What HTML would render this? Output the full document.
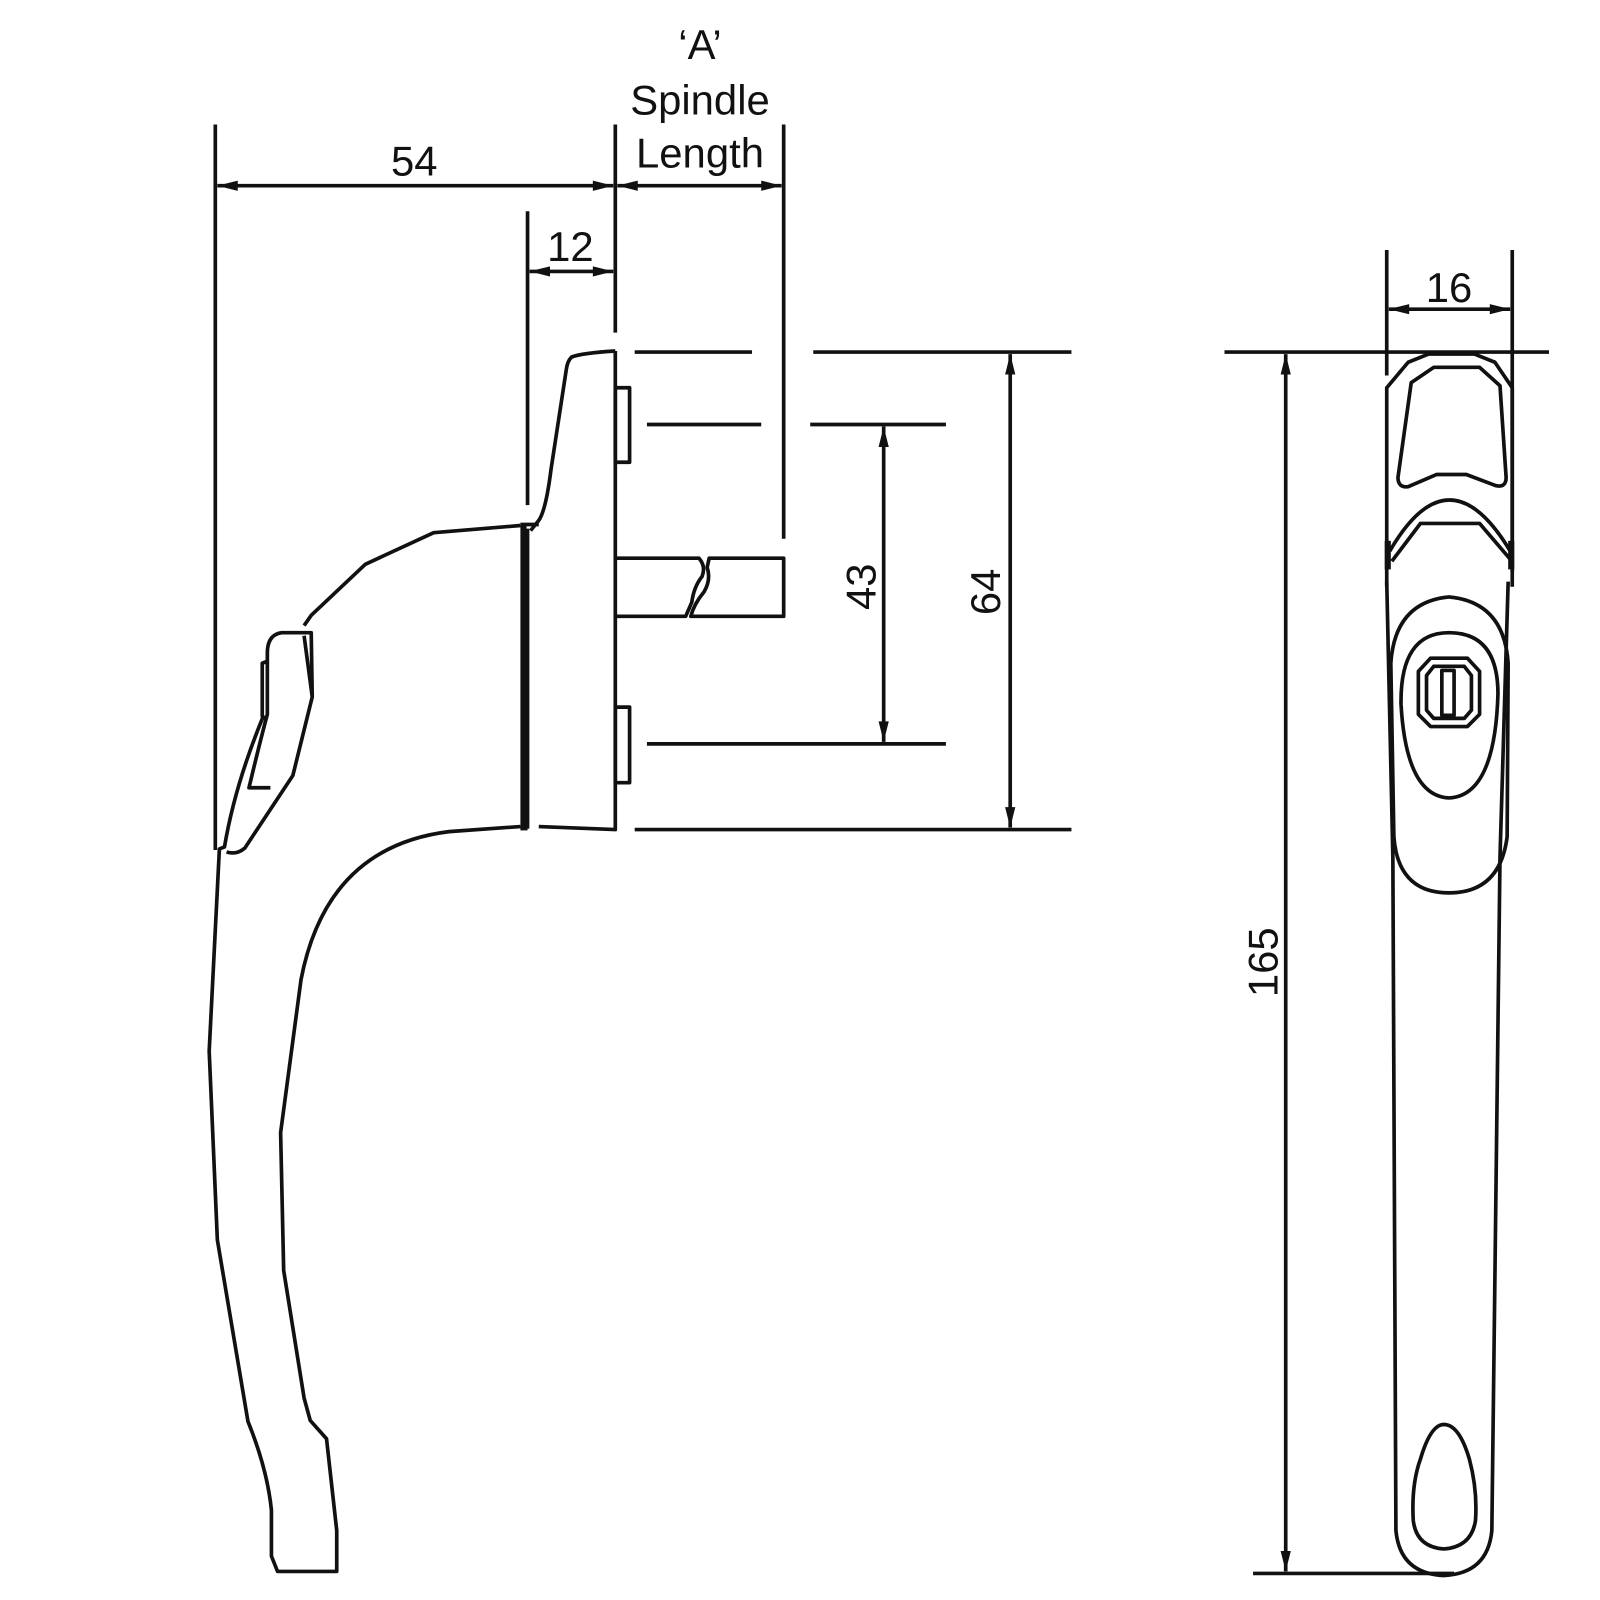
<!DOCTYPE html>
<html><head><style>html,body{margin:0;padding:0;background:#fff}svg{display:block}
text{font-family:"Liberation Sans",sans-serif;font-size:41px;fill:#111}</style></head>
<body>
<svg width="1600" height="1600" viewBox="0 0 1568 1568" xmlns="http://www.w3.org/2000/svg">
<defs>
<marker id="a" viewBox="0 0 20 10" refX="20" refY="5" markerWidth="22" markerHeight="10" markerUnits="userSpaceOnUse" orient="auto-start-reverse"><path d="M0,0 L20,5 L0,10 Z" fill="#111"/></marker>
</defs>
<g fill="none" stroke="#111" stroke-width="3.6" stroke-linejoin="round">
<line x1="211" y1="122" x2="211" y2="833"/>
<line x1="603" y1="122" x2="603" y2="326"/>
<line x1="768" y1="122" x2="768" y2="528"/>
<line x1="517" y1="207" x2="517" y2="495"/>
<line x1="213" y1="182" x2="601" y2="182" marker-start="url(#a)" marker-end="url(#a)"/>
<line x1="605" y1="182" x2="766" y2="182" marker-start="url(#a)" marker-end="url(#a)"/>
<line x1="519" y1="266" x2="601" y2="266" marker-start="url(#a)" marker-end="url(#a)"/>
<line x1="622" y1="345" x2="737" y2="345"/><line x1="797" y1="345" x2="1050" y2="345"/>
<line x1="634" y1="416" x2="746" y2="416"/><line x1="794" y1="416" x2="927" y2="416"/>
<line x1="634" y1="729" x2="927" y2="729"/>
<line x1="622" y1="813" x2="1050" y2="813"/>
<line x1="866" y1="418" x2="866" y2="727" marker-start="url(#a)" marker-end="url(#a)"/>
<line x1="990" y1="347" x2="990" y2="811" marker-start="url(#a)" marker-end="url(#a)"/>
<path d="M603,344 L603,813 L528,810 M603,344 Q570,346 560,350 Q556,354 555,362 L540,460 Q535,500 528,510 L520,520"/>
<rect x="510" y="515" width="6" height="296" fill="#111" stroke="none"/>
<line x1="517" y1="518" x2="517" y2="812"/>
<line x1="510" y1="514" x2="528" y2="514"/>
<line x1="510" y1="812" x2="517" y2="812"/>
<rect x="603" y="380" width="14" height="73"/>
<rect x="603" y="693" width="14" height="74"/>
<path d="M603,547 L685,547 Q692,555 688,565 Q680,575 678,590 L672,604 L603,604"/>
<path d="M695,547 L768,547 L768,604 L677,604 Q680,592 690,580 Q697,568 693,556 Z"/>
<path d="M510,515 L425,522 L358,553 L305,603 L298,613 M298,623 L306,683 L287,760 L240,831 Q232,838 222,835"/>
<path d="M306,683 L305,620 L276,620 Q262,622 262,640 L262,700 Q254,730 244,772 L265,772"/>
<path d="M262,648 L257,650 L257,702 L262,705"/>
<path d="M258,702 Q230,770 220,830 L215,832 L205,1030 L213,1215 L243,1393 Q262,1440 266,1480 L266,1525 L272,1540 L330,1540 L330,1500 L320,1410 L304,1392 L298,1370 L278,1245 L275,1110 L295,960 Q320,830 440,815 L510,810"/>
<line x1="1359" y1="245" x2="1359" y2="368"/>
<line x1="1482" y1="245" x2="1482" y2="560"/>
<line x1="1361" y1="303" x2="1480" y2="303" marker-start="url(#a)" marker-end="url(#a)"/>
<line x1="1200" y1="345" x2="1518" y2="345"/>
<line x1="1260" y1="347" x2="1260" y2="1540" marker-start="url(#a)" marker-end="url(#a)"/>
<line x1="1228" y1="1542" x2="1425" y2="1542"/>
<path d="M1359,575 L1359,380 L1380,355 L1400,347 L1445,347 L1465,355 L1482,380 L1482,575"/>
<path d="M1359,570 L1365,840 L1368,1500 Q1372,1542 1415,1544 Q1458,1542 1462,1500 L1470,840 L1478,570"/>
<path d="M1383,375 L1405,360 L1450,360 L1470,378 L1476,468 Q1476,478 1466,476 L1437,465 L1408,465 L1380,477 Q1370,478 1370,468 Z"/>
<path d="M1362,540 Q1420,440 1480,540"/>
<path d="M1364,550 L1392,513 L1450,513 L1480,548"/>
<rect x="1357" y="530" width="6" height="28" fill="#111" stroke="none"/>
<rect x="1478" y="530" width="6" height="28" fill="#111" stroke="none"/>
<path d="M1363,650 Q1367,590 1420,585 Q1474,590 1478,650 L1477,820 Q1470,875 1420,875 Q1370,875 1366,820 Z"/>
<path d="M1420,620 Q1468,620 1468,680 Q1465,780 1420,782 Q1378,780 1373,690 Q1372,620 1420,620 Z"/>
<path d="M1402,645 L1438,645 L1450,658 L1450,700 L1438,712 L1402,712 L1390,700 L1390,658 Z"/>
<path d="M1405,653 L1435,653 L1442,662 L1442,696 L1435,704 L1405,704 L1398,696 L1398,662 Z"/>
<rect x="1413" y="657" width="12" height="44"/>
<path d="M1415,1396 Q1430,1396 1440,1430 Q1448,1460 1446,1490 Q1442,1516 1415,1518 Q1388,1516 1385,1490 Q1383,1455 1392,1430 Q1402,1396 1415,1396 Z"/>
</g>
<g text-anchor="middle">
<text x="686" y="58">‘A’</text>
<text x="686" y="112">Spindle</text>
<text x="686" y="164">Length</text>
<text x="406" y="172">54</text>
<text x="559" y="256">12</text>
<text x="1420" y="296">16</text>
<text transform="translate(858,575) rotate(-90)">43</text>
<text transform="translate(980,580) rotate(-90)">64</text>
<text transform="translate(1252,943) rotate(-90)">165</text>
</g>
</svg>
</body></html>
